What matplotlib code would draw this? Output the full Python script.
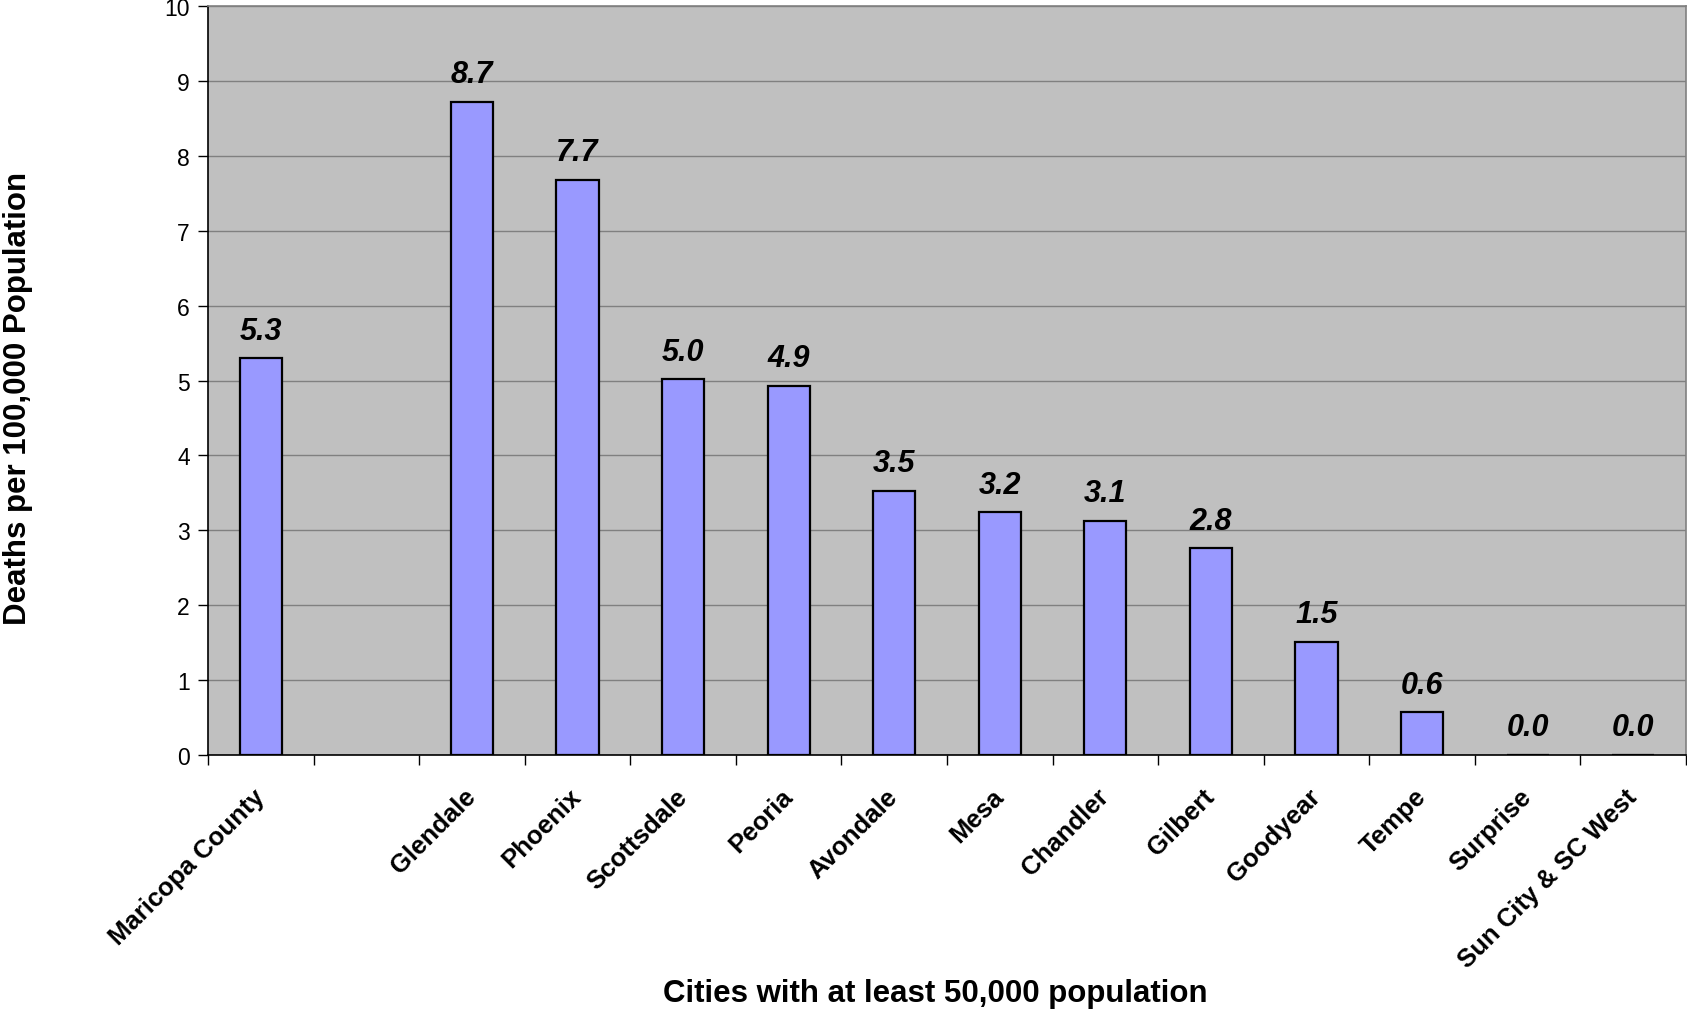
import matplotlib.pyplot as plt
import numpy as np

plt.rcParams['font.family'] = ['Liberation Sans', 'DejaVu Sans']

cities = ["Maricopa County", "", "Glendale", "Phoenix", "Scottsdale", "Peoria",
          "Avondale", "Mesa", "Chandler", "Gilbert", "Goodyear", "Tempe",
          "Surprise", "Sun City & SC West"]
rates = [5.30, np.nan, 8.72, 7.68, 5.02, 4.93, 3.53, 3.24, 3.13, 2.76, 1.51, 0.57, 0.0, 0.0]

fig = plt.figure(figsize=(16.87, 10.12), dpi=100)
ax = fig.add_axes([208 / 1687, 1 - 756 / 1012, 1478 / 1687, 749 / 1012])
ax.set_facecolor('#C0C0C0')

x = np.arange(len(cities))
bars = ax.bar(x, rates, width=0.4, color='#9999FF', edgecolor='black', linewidth=1.6, zorder=3)

# value labels above bars
for xi, v in zip(x, rates):
    if np.isnan(v):
        continue
    ax.annotate(f"{v:.1f}", (xi, v), xytext=(0, 9), textcoords='offset points',
                ha='center', va='bottom', fontsize=22, fontweight='bold', fontstyle='italic')

ax.set_xlim(-0.5, len(cities) - 0.5)
ax.set_ylim(0, 10)
ax.set_yticks(range(0, 11))
ax.yaxis.grid(True, color='#808080', linewidth=1.0, zorder=0)
ax.set_axisbelow(True)

# category labels at centers, tick marks at boundaries
ax.set_xticks(x)
ax.set_xticklabels(cities, rotation=45, ha='right', va='center', rotation_mode='anchor',
                   fontsize=18.5, fontweight='bold')
ax.tick_params(axis='x', which='major', length=0, pad=27)
ax.set_xticks(np.arange(len(cities) + 1) - 0.5, minor=True)
ax.tick_params(axis='x', which='minor', length=7, width=1, color='black', direction='out')
ax.tick_params(axis='y', length=7, width=1, direction='out', labelsize=16.5, pad=6)

for s in ['top', 'right']:
    ax.spines[s].set_color('#808080')
    ax.spines[s].set_linewidth(1.2)
for s in ['left', 'bottom']:
    ax.spines[s].set_color('black')
    ax.spines[s].set_linewidth(1.2)

fig.text(935 / 1687, 1 - 994 / 1012, "Cities with at least 50,000 population",
         ha='center', va='center', fontsize=22.5, fontweight='bold')
fig.text(18 / 1687, 1 - 398 / 1012, "Deaths per 100,000 Population",
         ha='center', va='center', rotation=90, fontsize=22.5, fontweight='bold')

fig.savefig('out.png', dpi=100)
